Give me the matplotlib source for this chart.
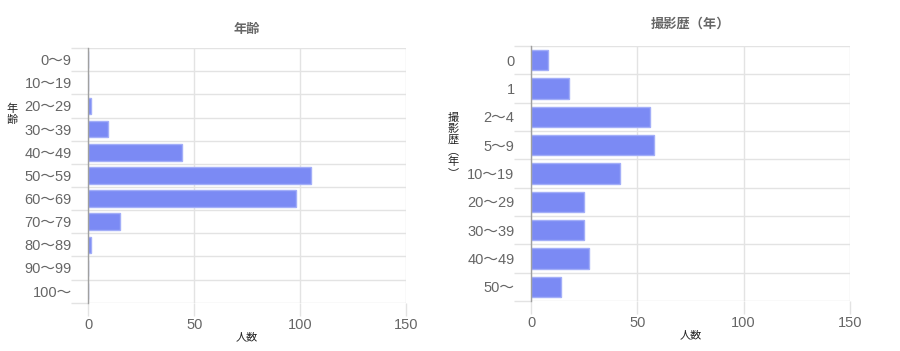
import matplotlib
matplotlib.use("Agg")
import matplotlib.pyplot as plt
import numpy as np

plt.rcParams['font.family'] = ['Liberation Sans', 'Noto Sans CJK JP', 'DejaVu Sans']

age_labels = ["0～9", "10～19", "20～29", "30～39", "40～49", "50～59",
              "60～69", "70～79", "80～89", "90～99", "100～"]
age_values = [0, 0, 1, 9, 44, 105, 98, 15, 1, 0, 0]

exp_labels = ["0", "1", "2～4", "5～9", "10～19", "20～29", "30～39", "40～49", "50～"]
exp_values = [8, 18, 56, 58, 42, 25, 25, 27, 14]

x_ticks = [0, 50, 100, 150]

BAR = '#7b8af4'
EDGE = '#a3aef8'
GRID = '#e3e3e3'
TICK = '#666666'

fig = plt.figure(figsize=(9, 3.51), dpi=100)

def draw(rect, labels, values, title, ylabel, title_y, ylabel_x, ylabel_top):
    ax = fig.add_axes(rect)
    n = len(labels)
    y = np.arange(n)
    ax.barh(y, values, height=0.72, color=BAR, edgecolor=EDGE, linewidth=1, zorder=3)
    ax.set_xlim(0, 150)
    ax.set_ylim(n - 0.5, -0.5)
    ax.set_xticks(x_ticks)
    ax.set_xticklabels([str(t) for t in x_ticks])
    ax.set_yticks(y)
    ax.set_yticklabels(labels)
    ax.set_yticks(np.arange(-0.5, n, 1.0), minor=True)
    ax.tick_params(axis='y', which='major', length=0, pad=12, labelsize=10.5, labelcolor=TICK)
    ax.tick_params(axis='y', which='minor', length=12, color=GRID, width=1)
    ax.tick_params(axis='x', which='major', length=9, color=GRID, width=1, labelsize=10.5,
                   labelcolor=TICK, pad=2)
    ax.grid(axis='x', which='major', color=GRID, linewidth=1, zorder=0)
    ax.grid(axis='y', which='minor', color=GRID, linewidth=1, zorder=0)
    for s in ['top', 'right', 'bottom']:
        ax.spines[s].set_visible(False)
    ax.spines['left'].set_color('#a0a0a0')
    ax.spines['left'].set_linewidth(1)
    ax.spines['left'].set_zorder(4)
    ax.set_xlabel("人数", fontsize=8, color='#222222', labelpad=0)
    fig.text(rect[0] + rect[2] / 2, title_y, title, ha='center', va='center',
             fontsize=9.5, fontweight='bold', color='#666666', rotation=0)
    for i, ch in enumerate(ylabel):
        fig.text(ylabel_x, 1 - (ylabel_top + i * 11) / 351, ch, ha='center', va='center',
                 fontsize=8, color='#222222', rotation=0)
    return ax

draw([0.0983, 0.1376, 0.3528, 0.7254], age_labels, age_values, "年齢", "年齢",
     1 - 30 / 351, 12 / 900, 109)
draw([0.5903, 0.1425, 0.3538, 0.7265], exp_labels, exp_values, "撮影歴（年）",
     "撮影歴︵年︶", 1 - 24 / 351, 453 / 900, 118)

fig.savefig("out.png", dpi=100, facecolor='white')
